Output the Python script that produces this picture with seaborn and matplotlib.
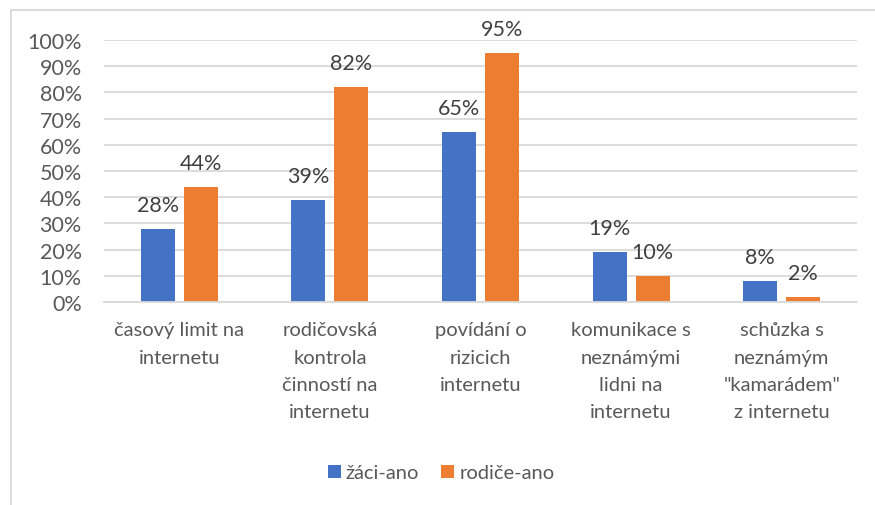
import matplotlib
matplotlib.use("Agg")
import matplotlib.pyplot as plt
from matplotlib.patches import Rectangle, Patch
from matplotlib.ticker import PercentFormatter
import seaborn as sns
import pandas as pd

categories = [
    "časový limit na\ninternetu",
    "rodičovská\nkontrola\nčinností na\ninternetu",
    "povídání o\nrizicich\ninternetu",
    "komunikace s\nneznámými\nlidni na\ninternetu",
    "schůzka s\nneznámým\n\"kamarádem\"\nz internetu",
]
series_names = ["žáci-ano", "rodiče-ano"]
zaci = [28, 39, 65, 19, 8]
rodice = [44, 82, 95, 10, 2]
yticks = [0, 10, 20, 30, 40, 50, 60, 70, 80, 90, 100]

colors = ["#4472C4", "#ED7D31"]
text_gray = "#595959"
label_gray = "#404040"
grid_gray = "#D9D9D9"

df = pd.DataFrame({
    "kategorie": categories * 2,
    "skupina": [series_names[0]] * len(categories) + [series_names[1]] * len(categories),
    "hodnota": zaci + rodice,
})

sns.set_theme(style="white")
plt.rcParams["font.family"] = ["Lato", "DejaVu Sans"]

fig = plt.figure(figsize=(8.75, 5.06), dpi=100)
ax = fig.add_axes([104 / 875, 1 - 303 / 506, 753 / 875, 262 / 506])

sns.barplot(data=df, x="kategorie", y="hodnota", hue="skupina",
            palette=colors, width=0.571, gap=0.21, ax=ax,
            legend=False, saturation=1, edgecolor="none")

ax.set_ylim(0, 100)
ax.set_xlim(-0.5, len(categories) - 0.5)
ax.set_yticks(yticks)
ax.yaxis.set_major_formatter(PercentFormatter(decimals=0))
ax.grid(axis="y", color=grid_gray, linewidth=1.3)
ax.set_axisbelow(True)
for s in ["top", "right", "left"]:
    ax.spines[s].set_visible(False)
ax.spines["bottom"].set_color(grid_gray)
ax.spines["bottom"].set_linewidth(1.3)
ax.set_xlabel("")
ax.set_ylabel("")
ax.tick_params(axis="y", length=0, pad=16, labelsize=15.5, labelcolor=text_gray)
ax.tick_params(axis="x", length=0, pad=14, labelsize=14.5, labelcolor=text_gray)
for lbl in ax.get_xticklabels():
    lbl.set_linespacing(1.72)

for cont in ax.containers:
    ax.bar_label(cont, fmt="%d%%", padding=10, fontsize=15.5,
                 color=label_gray, clip_on=False)

# Chart frame
fig.patches.append(Rectangle((11 / 875, -0.05), 1.2, 1 - 11 / 506 + 0.05,
                             transform=fig.transFigure, fill=False,
                             edgecolor=grid_gray, linewidth=1.3))

handles = [Patch(facecolor=c, edgecolor="none") for c in colors]
fig.legend(handles, series_names, loc="center", bbox_to_anchor=(441 / 875, 1 - 474 / 506),
           ncol=2, frameon=False, fontsize=14.5, labelcolor=text_gray,
           handlelength=0.65, handleheight=0.65, handletextpad=0.25,
           columnspacing=1.1)

fig.savefig("out.png", dpi=100)
